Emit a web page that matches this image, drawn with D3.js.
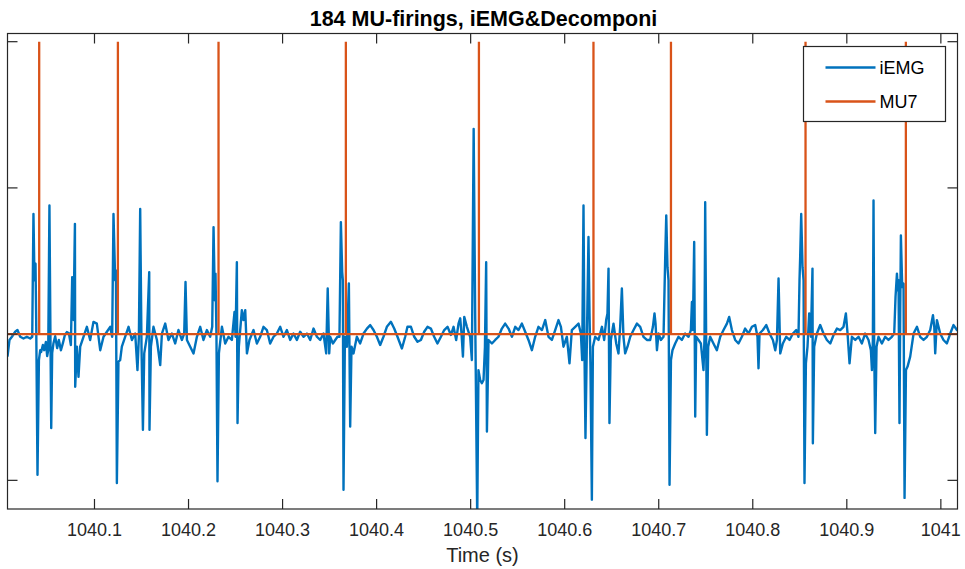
<!DOCTYPE html>
<html>
<head>
<meta charset="utf-8">
<script src="https://cdn.jsdelivr.net/npm/d3@7"></script>
<style>
  html, body { margin: 0; padding: 0; background: #fff; }
  svg { display: block; font-family: "Liberation Sans", Arial, Helvetica, sans-serif; }
</style>
</head>
<body>
<svg id="chart" width="965" height="569"></svg>
<script>
// ---------------- DATA ----------------
const chartTitle = "184 MU-firings, iEMG&Decomponi";
const xLabel = "Time (s)";
const timeOrigin = 1040;                 // s, time offsets below are in ms after this
const xDomainSec = [1040.0075, 1041.0177];
const yDomain = [-0.598, 1.028];
const xTickValues = [1040.1, 1040.2, 1040.3, 1040.4, 1040.5, 1040.6, 1040.7, 1040.8, 1040.9, 1041];
const xTickLabels = ["1040.1", "1040.2", "1040.3", "1040.4", "1040.5", "1040.6", "1040.7", "1040.8", "1040.9", "1041"];
const yTickValues = [-0.5, 0, 0.5, 1];
const seriesNames = ["iEMG", "MU7"];

// MU7 firing instants (ms after 1040 s)
const mu7FiringsMs = [41.2, 124.9, 231.9, 367.3, 508.8, 630.6, 713.0, 856.1, 962.8];

// iEMG trace: [time in ms after 1040 s, amplitude in 1/100 of the firing-train unit]
const iemg = [
[7.5,-7.7],[9.6,-2.0],[12.2,-0.9],[15.7,0.8],[18.1,1.4],[21.0,-0.9],[24.5,-1.5],[28.1,-0.9],[31.6,-1.5],[33.8,-0.9],
[35.1,41.1],[36.2,18.4],[37.3,24.1],[38.0,4.8],[39.4,-48.1],[40.9,-8.9],[42.3,-5.5],[43.3,-6.1],[45.1,-3.7],[46.5,-5.5],
[48.3,-2.7],[49.7,-7.5],[50.8,-5.5],[52.1,44.0],[53.2,-2.0],[54.0,-32.1],[55.0,-6.5],[56.4,-3.1],[58.2,-0.7],[60.3,-4.8],
[62.1,-2.0],[64.3,-5.5],[66.4,-3.1],[68.5,-0.3],[70.6,0.7],[72.8,0.3],[74.9,-3.7],[76.3,19.5],[77.7,4.8],[79.2,37.7],
[79.5,-18.0],[81.3,-4.3],[83.0,-14.6],[84.8,-4.3],[88.3,-0.9],[91.9,2.5],[95.4,-2.0],[98.9,4.2],[102.5,3.6],[106.1,-5.5],
[109.6,-0.9],[113.2,0.8],[116.7,2.5],[118.8,-0.9],[120.2,41.1],[122.0,18.4],[122.8,21.8],[123.8,-50.9],[125.5,-9.4],[127.3,-8.9],
[129.1,-4.3],[132.6,-0.9],[136.2,2.5],[139.8,-2.0],[143.3,0.2],[145.7,-12.3],[147.2,-0.9],[148.6,42.8],[150.0,-4.3],[151.5,-32.7],
[152.9,-6.6],[155.7,-0.9],[158.2,21.2],[158.5,-32.7],[160.0,-4.3],[162.7,2.5],[166.4,-2.0],[169.9,-10.6],[171.7,0.2],[175.2,3.6],
[178.7,-2.0],[182.3,0.2],[185.8,-3.2],[189.3,1.4],[192.9,-2.0],[195.4,0.2],[196.8,17.8],[198.3,-2.0],[201.8,-4.3],[205.3,-6.6],
[208.9,-0.9],[212.4,2.5],[215.9,-2.0],[219.5,1.4],[223.0,-0.9],[225.2,2.5],[226.6,36.6],[228.0,11.6],[228.7,20.7],[229.7,-0.9],
[230.8,-50.3],[232.3,-6.6],[235.5,2.5],[239.0,-3.2],[242.5,-0.9],[246.1,-2.0],[248.9,7.6],[250.0,-0.9],[251.4,24.6],[252.1,-30.4],
[253.5,-4.3],[256.7,8.2],[258.4,4.8],[260.3,8.2],[262.1,-6.6],[264.8,-2.0],[269.1,1.4],[272.7,-3.2],[276.2,-0.9],[279.7,2.5],
[283.3,1.4],[286.8,-3.2],[290.4,-0.9],[293.9,0.2],[297.5,2.5],[301.0,-0.9],[304.6,1.4],[308.1,-2.0],[311.6,0.2],[315.2,-2.0],
[318.7,0.8],[322.3,-0.9],[325.9,0.2],[329.4,-2.0],[332.9,1.9],[336.5,-0.9],[340.0,-2.0],[343.5,0.2],[346.4,-6.6],[348.0,15.6],
[349.6,-6.6],[350.6,-0.9],[353.5,-3.2],[356.0,-2.0],[358.4,-0.9],[360.5,-0.9],[362.0,38.3],[363.4,21.2],[364.1,18.4],[364.8,-53.2],
[366.3,-0.9],[368.4,-4.3],[370.5,17.3],[371.9,-31.6],[373.3,-4.3],[375.4,-6.6],[379.0,-0.9],[382.5,-3.2],[386.1,0.2],[389.7,1.9],
[393.2,3.1],[396.7,1.4],[400.3,-0.9],[403.8,-3.7],[407.3,-0.9],[410.9,2.5],[415.2,4.2],[418.7,1.9],[422.2,-0.9],[426.9,-4.9],
[430.4,-0.9],[432.8,2.5],[436.5,2.5],[440.0,-0.9],[443.5,-2.6],[447.1,-2.0],[450.6,0.8],[454.1,2.5],[457.7,1.9],[461.2,-0.9],
[464.7,-3.2],[468.4,-0.9],[471.9,1.4],[475.4,2.5],[479.0,-0.3],[481.8,2.5],[484.6,-2.0],[487.1,3.6],[488.9,5.4],[490.3,0.2],
[491.8,-7.7],[493.2,5.9],[496.0,2.5],[499.5,-0.9],[501.3,-8.9],[503.2,70.2],[504.8,7.2],[507.0,-63.4],[508.3,-12.3],[510.1,-15.7],
[511.9,-16.8],[513.7,-15.7],[515.2,-4.3],[516.5,24.6],[517.3,-33.3],[519.0,-2.0],[522.6,-3.2],[526.1,-2.0],[529.6,-0.9],[533.2,1.9],
[536.7,3.6],[540.3,1.9],[543.9,-0.9],[547.4,2.5],[550.9,1.4],[554.5,3.6],[558.0,0.8],[561.5,-2.0],[565.1,-5.5],[568.6,-0.9],
[572.1,2.5],[575.8,1.4],[579.3,4.8],[582.8,-0.9],[586.4,-2.0],[589.9,1.4],[593.4,4.8],[596.0,2.5],[598.7,-4.3],[602.3,-0.9],
[605.1,-10.0],[607.6,1.4],[611.2,2.5],[614.7,3.6],[617.2,0.2],[618.6,-8.9],[620.0,44.0],[621.1,-7.7],[622.1,-35.5],[623.6,-2.0],
[625.3,33.2],[626.4,7.1],[627.4,-11.1],[628.9,-56.6],[630.0,-4.3],[632.4,-0.9],[636.0,-2.0],[639.6,2.5],[642.0,-2.0],[644.1,4.8],
[645.5,7.1],[646.6,22.4],[647.6,-30.4],[649.1,-2.0],[651.9,3.6],[654.8,-3.2],[657.2,-6.6],[659.0,2.5],[660.8,15.6],[662.5,-0.9],
[664.3,-6.6],[666.8,-4.3],[669.7,-0.9],[673.2,1.4],[676.8,3.6],[680.3,2.5],[683.8,-0.9],[687.4,-2.0],[690.9,-2.0],[693.8,2.5],
[695.5,7.1],[696.6,3.6],[698.1,-5.5],[699.8,0.2],[702.3,-2.0],[705.1,-0.9],[706.9,26.3],[708.0,40.6],[709.3,22.9],[710.4,18.4],
[711.5,-51.5],[713.0,-8.9],[714.6,-5.5],[717.5,-3.2],[721.0,-0.9],[724.6,-2.0],[728.1,0.2],[731.7,-0.9],[734.2,1.4],[735.3,11.0],
[736.3,1.4],[737.7,31.5],[738.8,-28.2],[739.8,-0.9],[742.3,-2.0],[744.8,-3.2],[747.6,-12.3],[748.7,-0.9],[749.4,45.1],[750.5,-4.3],
[751.2,-34.4],[752.6,-4.3],[754.7,-0.9],[758.2,-3.2],[761.8,-5.5],[765.4,-0.9],[768.9,1.4],[772.5,3.6],[774.9,5.9],[777.8,1.4],
[781.3,-2.0],[784.8,-3.2],[788.4,-0.9],[791.9,1.9],[795.5,0.2],[799.1,2.5],[802.6,3.1],[805.0,-0.9],[806.1,-11.7],[807.2,0.2],
[810.8,1.4],[814.3,3.1],[817.8,0.2],[821.4,-2.0],[823.9,-5.5],[825.7,-2.0],[827.4,19.0],[829.2,-6.6],[832.0,-3.2],[835.6,-0.9],
[839.1,-2.0],[842.7,0.2],[846.2,1.4],[848.6,-0.9],[849.7,18.4],[850.4,26.3],[851.5,41.1],[852.9,22.9],[854.0,18.4],[855.0,-50.9],
[856.5,-10.0],[858.2,-4.3],[860.0,7.1],[861.8,-0.9],[863.5,22.4],[863.9,-37.3],[865.3,-4.3],[868.2,0.2],[871.7,3.1],[875.2,0.2],
[878.8,-2.0],[882.4,-3.2],[885.9,-0.3],[889.5,1.9],[893.0,1.4],[896.5,2.5],[899.0,7.1],[900.8,0.2],[902.9,-10.0],[905.4,-0.9],
[909.0,-2.0],[912.5,-0.9],[916.0,-3.2],[919.5,0.2],[923.1,-2.0],[925.6,-5.5],[926.7,-12.3],[927.7,-2.0],[928.4,45.7],[929.1,-4.3],
[930.2,-33.8],[931.6,-4.3],[933.7,-0.9],[937.3,-3.2],[940.8,-0.9],[944.3,-2.0],[947.9,-0.9],[950.4,0.2],[951.8,12.7],[953.3,20.7],
[954.3,15.0],[955.0,18.4],[956.0,-30.4],[956.8,7.2],[957.5,33.7],[958.9,16.1],[960.3,17.3],[961.4,-56.0],[962.9,-12.3],[964.6,-11.1],
[967.4,-7.7],[971.0,0.2],[974.6,2.5],[978.0,-0.9],[981.6,-2.0],[985.2,-0.9],[988.7,1.4],[991.6,6.5],[993.0,2.5],[994.0,-6.6],
[995.8,4.8],[999.3,0.2],[1002.8,-2.0],[1006.4,-3.2],[1010.0,0.2],[1013.5,3.1],[1017.1,1.4],[1019.0,2.4]
];

// ---------------- LAYOUT ----------------
const W = 965, H = 569;
const plot = { left: 7.5, right: 957.5, top: 33.5, bottom: 509 };
const colors = { iEMG: "#0072BD", MU7: "#D95319", axis: "#262626" };

const svg = d3.select("#chart");
const x = d3.scaleLinear().domain(xDomainSec).range([plot.left, plot.right]);
const y = d3.scaleLinear().domain(yDomain).range([plot.bottom, plot.top]);

svg.append("defs").append("clipPath").attr("id", "clip")
  .append("rect").attr("x", plot.left).attr("y", plot.top)
  .attr("width", plot.right - plot.left).attr("height", plot.bottom - plot.top);

svg.append("rect").attr("x", plot.left).attr("y", plot.top)
  .attr("width", plot.right - plot.left).attr("height", plot.bottom - plot.top)
  .attr("fill", "#fff");

const lineGen = d3.line().x(d => x(d[0])).y(d => y(d[1]));

const emgPts = iemg.map(d => [timeOrigin + d[0] / 1000, d[1] / 100]);
const muPts = [[xDomainSec[0], 0]];
mu7FiringsMs.forEach(f => {
  const t = timeOrigin + f / 1000;
  muPts.push([t, 0], [t, 1], [t, 0]);
});
muPts.push([xDomainSec[1], 0]);

const gData = svg.append("g").attr("clip-path", "url(#clip)");
gData.append("path").attr("d", lineGen(emgPts))
  .attr("fill", "none").attr("stroke", colors.iEMG).attr("stroke-width", 2.4)
  .attr("stroke-linejoin", "round");
gData.append("path").attr("d", lineGen(muPts))
  .attr("fill", "none").attr("stroke", colors.MU7).attr("stroke-width", 2.3)
  .attr("stroke-linejoin", "miter");

// axes (MATLAB-style box with inward ticks)
const tickLen = 10;
const gAx = svg.append("g").attr("stroke", colors.axis).attr("stroke-width", 1.2).attr("fill", "none");
gAx.append("rect").attr("x", plot.left).attr("y", plot.top)
  .attr("width", plot.right - plot.left).attr("height", plot.bottom - plot.top);
xTickValues.forEach(v => {
  const px = x(v);
  gAx.append("line").attr("x1", px).attr("x2", px).attr("y1", plot.bottom).attr("y2", plot.bottom - tickLen);
  gAx.append("line").attr("x1", px).attr("x2", px).attr("y1", plot.top).attr("y2", plot.top + tickLen);
});
yTickValues.forEach(v => {
  const py = y(v);
  gAx.append("line").attr("x1", plot.left).attr("x2", plot.left + tickLen).attr("y1", py).attr("y2", py);
  gAx.append("line").attr("x1", plot.right).attr("x2", plot.right - tickLen).attr("y1", py).attr("y2", py);
});

// tick labels
svg.append("g").selectAll("text").data(xTickValues).join("text")
  .attr("x", d => x(d)).attr("y", 535.5)
  .attr("text-anchor", "middle").attr("font-size", 18).attr("fill", colors.axis)
  .text((d, i) => xTickLabels[i]);

// x label
svg.append("text").attr("x", (plot.left + plot.right) / 2).attr("y", 561.5)
  .attr("text-anchor", "middle").attr("font-size", 20).attr("fill", colors.axis)
  .text(xLabel);

// title
svg.append("text").attr("x", (plot.left + plot.right) / 2 + 1).attr("y", 25.5)
  .attr("text-anchor", "middle").attr("font-size", 21.5).attr("font-weight", "bold").attr("fill", "#000")
  .text(chartTitle);

// legend
const lg = { x: 803.5, y: 46.5, w: 142, h: 75 };
const gL = svg.append("g");
gL.append("rect").attr("x", lg.x).attr("y", lg.y).attr("width", lg.w).attr("height", lg.h)
  .attr("fill", "#fff").attr("stroke", colors.axis).attr("stroke-width", 1.2);
seriesNames.forEach((name, i) => {
  const ly = lg.y + 21 + i * 34;
  gL.append("line").attr("x1", lg.x + 22).attr("x2", lg.x + 72).attr("y1", ly).attr("y2", ly)
    .attr("stroke", colors[name]).attr("stroke-width", 2.3);
  gL.append("text").attr("x", lg.x + 76).attr("y", ly + 6.5)
    .attr("font-size", 18).attr("fill", "#000").text(name);
});
</script>
</body>
</html>
